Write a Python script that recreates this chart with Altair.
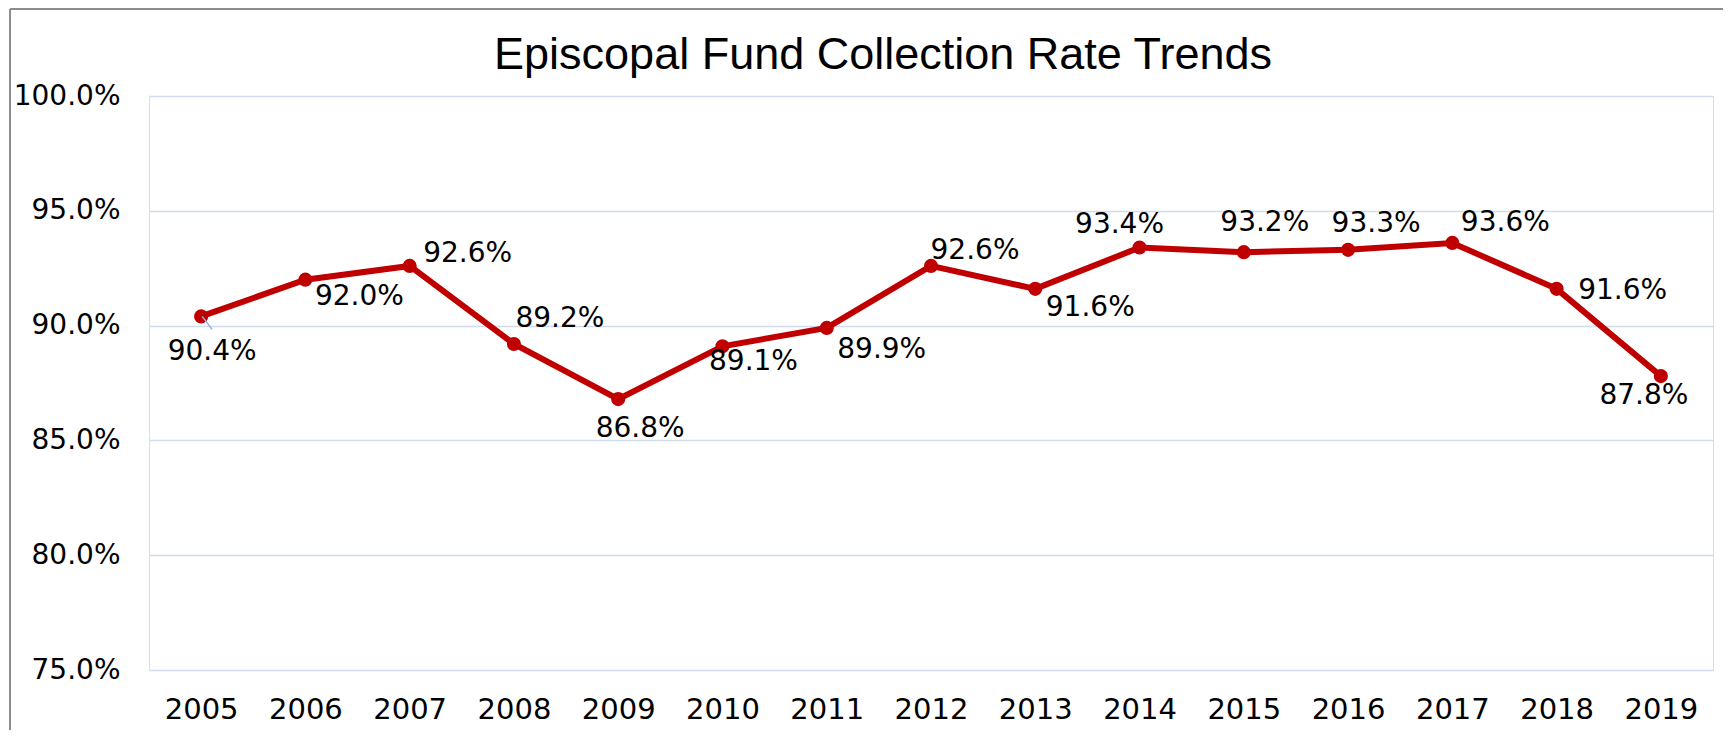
import altair as alt
import pandas as pd

# ---- data ----
YEARS = ["2005", "2006", "2007", "2008", "2009", "2010", "2011", "2012",
         "2013", "2014", "2015", "2016", "2017", "2018", "2019"]
RATES = [90.4, 92.0, 92.6, 89.2, 86.8, 89.1, 89.9, 92.6,
         91.6, 93.4, 93.2, 93.3, 93.6, 91.6, 87.8]
Y_TICKS = [75, 80, 85, 90, 95, 100]
Y_DOMAIN = [75, 100]
TITLE = "Episcopal Fund Collection Rate Trends"

# ---- label placement (pixel nudges relative to each point) ----
LABEL_DX = [11, 54, 58, 46, 22, 31, 55, 44, 55, -20, 21, 28, 53, 66, -17]
LABEL_DY = [36, 17, -12, -25, 30, 16, 22, -15, 19, -23, -29, -26, -20, 2, 20]

FONT = "DejaVu Sans"
TITLE_FONT = "Liberation Sans"
RED = "#C00000"
W, H = 1564, 574
PX_PER_UNIT = H / (Y_DOMAIN[1] - Y_DOMAIN[0])

df = pd.DataFrame({"year": YEARS, "rate": RATES, "dx": LABEL_DX, "dy": LABEL_DY})
df["label"] = [f"{v:.1f}%" for v in RATES]

leader = pd.DataFrame({"year": [YEARS[0], YEARS[0]], "rate": [RATES[0], RATES[0]],
                       "lx": [1, 11], "ly": [0, 13]})

x_enc = alt.X("year:O", sort=YEARS,
              scale=alt.Scale(type="point", padding=0.5),
              axis=alt.Axis(title=None, labelAngle=0, ticks=False, tickSize=0,
                            domain=False, grid=False, labelFontSize=29,
                            labelFont=FONT, labelColor="black", labelPadding=25))
y_enc = alt.Y("rate:Q",
              scale=alt.Scale(domain=Y_DOMAIN, nice=False, zero=False),
              axis=alt.Axis(title=None, values=Y_TICKS, ticks=False, tickSize=0,
                            domain=False, grid=True, gridColor="#D0DCEE",
                            gridWidth=1.5, labelFontSize=28, labelFont=FONT,
                            labelColor="black", labelPadding=29,
                            labelExpr="format(datum.value, '.1f') + '%'"))

base = alt.Chart(df)

line = base.mark_line(color=RED, strokeWidth=6).encode(x=x_enc, y=y_enc)
points = base.mark_circle(color=RED, size=200, opacity=1).encode(x="year:O", y="rate:Q")
leader_line = alt.Chart(leader).mark_line(color="#8DB3E2", strokeWidth=1.5).transform_calculate(
    ly_rate=f"datum.rate - datum.ly / {PX_PER_UNIT}"
).encode(
    x="year:O", y="ly_rate:Q",
    xOffset=alt.XOffset("lx:Q", scale=None),
)
labels = base.mark_text(font=FONT, fontSize=28, color="black",
                        align="center", baseline="middle").transform_calculate(
    label_rate=f"datum.rate - datum.dy / {PX_PER_UNIT}"
).encode(
    x="year:O", y="label_rate:Q",
    xOffset=alt.XOffset("dx:Q", scale=None),
    text="label:N",
)

frame_df = pd.DataFrame({"k": [0]})
border_left = alt.Chart(frame_df).mark_rule(color="#8C8C8C", strokeWidth=2).encode(
    x=alt.value(-139), y=alt.value(-87), y2=alt.value(H + 70))
border_top = alt.Chart(frame_df).mark_rule(color="#8C8C8C", strokeWidth=2).encode(
    x=alt.value(-139), x2=alt.value(W + 20), y=alt.value(-87))

chart = alt.layer(line, points, leader_line, labels, border_left, border_top).properties(
    width=W, height=H,
    title=alt.TitleParams(TITLE, font=TITLE_FONT, fontSize=45, fontWeight="normal",
                          color="black", anchor="middle", frame="group",
                          dx=-48, dy=106, offset=0, baseline="alphabetic"),
    autosize=alt.AutoSizeParams(type="none"),
    padding={"left": 141, "top": 88, "right": 10, "bottom": 60},
).configure_view(stroke=None).configure(background="white")

chart.save("out.html", embed_options={"renderer": "svg", "actions": False})
